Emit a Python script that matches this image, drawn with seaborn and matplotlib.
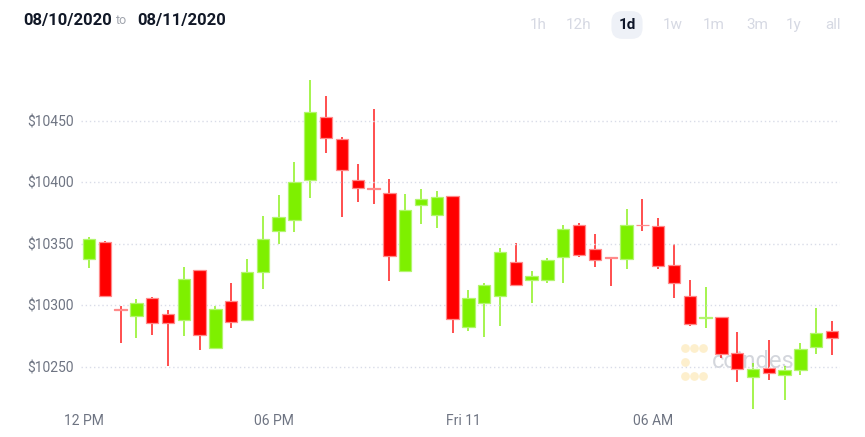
import seaborn as sns
import pandas as pd
import numpy as np
import matplotlib.pyplot as plt

# 30-minute candles, 08/10/2020 12:00 -> 08/11/2020 11:30
opens = [10337.4, 10351.8, 10296.4, 10291.5, 10306.2, 10292.9, 10288.0, 10328.4,
         10265.0, 10303.5, 10288.0, 10327.4, 10360.7, 10369.7, 10402.2, 10453.0,
         10435.6, 10401.7, 10395.0, 10391.1, 10327.6, 10381.9, 10373.7, 10388.7,
         10282.6, 10302.1, 10307.8, 10335.2, 10320.3, 10320.6, 10339.6, 10365.3,
         10345.5, 10339.0, 10337.4, 10365.5, 10364.2, 10333.0, 10307.2, 10290.0,
         10290.6, 10260.8, 10241.2, 10249.1, 10242.9, 10247.5, 10265.9, 10278.7]
highs = [10355.8, 10352.0, 10299.0, 10304.8, 10306.5, 10296.1, 10330.9, 10328.8,
         10299.4, 10317.8, 10337.4, 10372.7, 10389.8, 10416.4, 10483.4, 10470.4,
         10436.7, 10415.0, 10459.8, 10402.5, 10390.3, 10394.4, 10393.0, 10388.9,
         10312.4, 10317.8, 10346.9, 10350.4, 10328.2, 10338.2, 10365.3, 10366.7,
         10357.7, 10339.2, 10378.4, 10386.2, 10371.0, 10349.8, 10320.8, 10314.8,
         10290.8, 10278.2, 10252.9, 10271.6, 10250.2, 10269.2, 10297.7, 10286.8]
lows = [10330.0, 10306.5, 10269.5, 10273.6, 10276.0, 10250.5, 10275.0, 10263.6,
        10264.5, 10281.7, 10287.5, 10313.2, 10349.6, 10359.9, 10387.6, 10423.7,
        10371.6, 10384.3, 10382.2, 10320.0, 10327.4, 10365.9, 10362.6, 10277.7,
        10279.3, 10274.4, 10283.4, 10316.0, 10302.1, 10318.4, 10317.8, 10339.6,
        10331.4, 10315.9, 10329.5, 10360.4, 10329.4, 10305.8, 10282.8, 10281.4,
        10257.0, 10237.2, 10215.5, 10238.8, 10222.5, 10242.9, 10260.2, 10259.7]
closes = [10353.9, 10307.3, 10296.0, 10301.6, 10285.3, 10285.3, 10321.1, 10275.5,
          10297.0, 10286.4, 10327.1, 10353.7, 10371.6, 10400.1, 10457.1, 10435.9,
          10410.1, 10395.2, 10394.5, 10340.1, 10377.8, 10386.2, 10388.1, 10289.1,
          10306.2, 10316.5, 10343.1, 10316.2, 10323.5, 10337.1, 10362.1, 10341.2,
          10337.1, 10338.5, 10365.3, 10365.0, 10331.6, 10317.8, 10284.7, 10290.4,
          10260.2, 10248.0, 10248.3, 10244.8, 10247.5, 10264.6, 10277.3, 10273.3]

x_ticks = [0, 12, 24, 36]
x_labels = ["12 PM", "06 PM", "Fri 11", "06 AM"]
y_ticks = [10250, 10300, 10350, 10400, 10450]
ranges = ["1h", "12h", "1d", "1w", "1m", "3m", "1y", "all"]

df = pd.DataFrame({"open": opens, "high": highs, "low": lows, "close": closes})
df["i"] = np.arange(len(df))
df["up"] = df["close"] >= df["open"]

sns.set_style("white")
plt.rcParams['font.family'] = ['Liberation Sans Narrow', 'Roboto', 'DejaVu Sans']

W, H = 865, 437
fig = plt.figure(figsize=(W / 100, H / 100), dpi=100)
ax = fig.add_axes([81 / W, 1 - 410 / H, (840 - 81) / W, (410 - 55) / H])

green, red = "#7ef000", "#ff0000"
green_edge, red_edge = "#b2f56e", "#ff8a8a"

for up, col, edge in [(True, green, green_edge), (False, red, red_edge)]:
    d = df[df["up"] == up]
    ax.vlines(d["i"], d["low"], d["high"], color=col, lw=1.3, alpha=0.75, zorder=2)
    body_lo = np.minimum(d["open"], d["close"])
    body_h = np.maximum((d["close"] - d["open"]).abs(), 0.7)
    ax.bar(d["i"], body_h, bottom=body_lo, width=0.78, color=col,
           edgecolor=edge, linewidth=0.9, zorder=3)

ax.set_xlim(-0.5, 47.5)
ax.set_ylim(10214.7, 10503.7)
ax.set_yticks(y_ticks)
ax.set_yticklabels(["$%d" % v for v in y_ticks])
ax.set_xticks([t - 0.3 for t in x_ticks])
ax.set_xticklabels(x_labels)
ax.tick_params(axis="both", length=0, colors="#6e7482", labelsize=10)
ax.tick_params(axis="y", pad=5)
ax.tick_params(axis="x", pad=3)
for s in ax.spines.values():
    s.set_visible(False)
ax.yaxis.grid(True, linestyle=(0, (1, 2)), color="#d9dce8", lw=1, zorder=4)
ax.set_axisbelow(False)

# watermark
logo_x = [0.796, 0.808, 0.820, 0.796, 0.796, 0.808, 0.820]
logo_y = [0.175, 0.175, 0.175, 0.135, 0.095, 0.095, 0.095]
ax.scatter(logo_x, logo_y, s=40, color="#fde9b8", alpha=0.7, transform=ax.transAxes,
           zorder=1, linewidths=0)
ax.text(0.893, 0.137, "coindesk", transform=ax.transAxes, fontsize=17,
        color="#c9ccd4", alpha=0.8, ha="center", va="center",
        family=["Roboto", "DejaVu Sans"], zorder=1)

# header
fig.text(23 / W, 1 - 20 / H, "08/10/2020", fontsize=12, fontweight="bold",
         color="#111827", va="center", family=["Roboto", "DejaVu Sans"])
fig.text(116 / W, 1 - 21 / H, "to", fontsize=9, color="#a0a4ad", va="center",
         family=["Roboto", "DejaVu Sans"])
fig.text(137 / W, 1 - 20 / H, "08/11/2020", fontsize=12, fontweight="bold",
         color="#111827", va="center", family=["Roboto", "DejaVu Sans"])

centers = [538, 579, 627, 673, 714, 757, 794, 833]
for lab, cx in zip(ranges, centers):
    active = lab == "1d"
    fig.text(cx / W, 1 - 25 / H, lab, fontsize=11,
             fontweight="bold" if active else "normal",
             color="#0f1629" if active else "#d6d9e3", ha="center", va="center",
             family=["Roboto", "DejaVu Sans"],
             bbox=dict(boxstyle="round,pad=0.45,rounding_size=0.7", fc="#eef1f7", ec="none")
             if active else None)

fig.savefig("out.png", dpi=100)
